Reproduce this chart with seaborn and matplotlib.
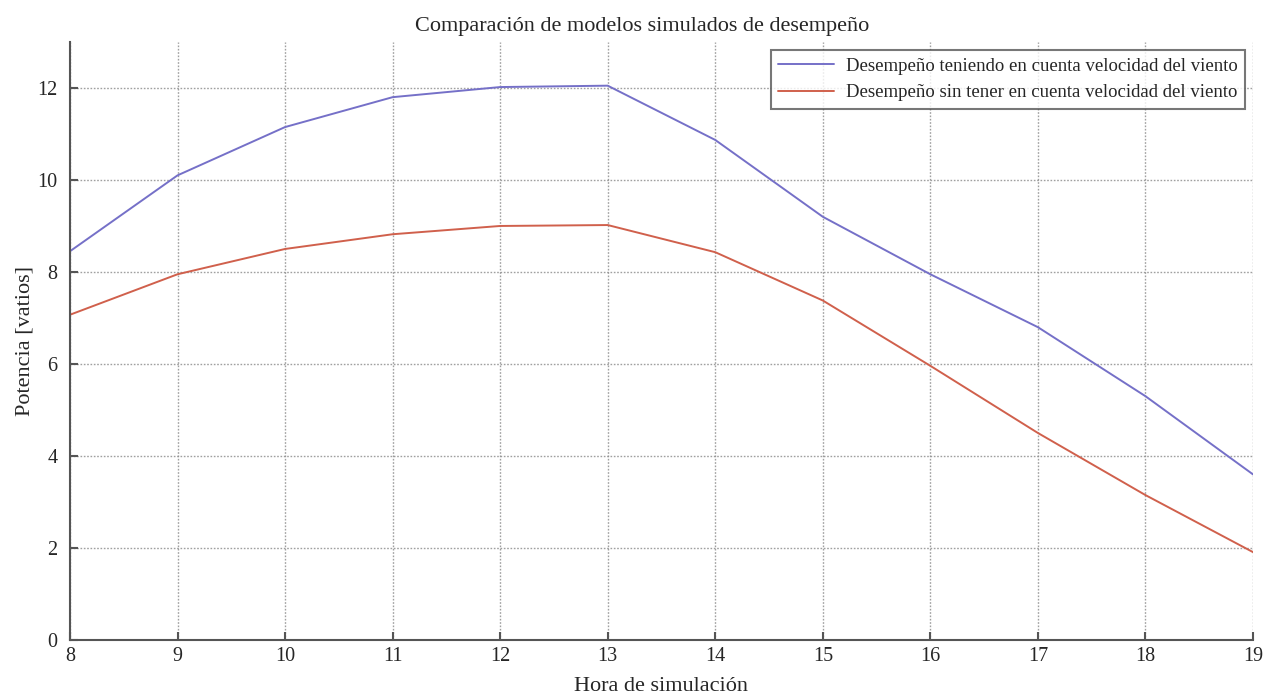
import matplotlib
matplotlib.use("Agg")
import matplotlib.pyplot as plt
import seaborn as sns
import pandas as pd

horas = [8, 9, 10, 11, 12, 13, 14, 15, 16, 17, 18, 19]
con_viento = [8.45, 10.1, 11.15, 11.8, 12.02, 12.05, 10.87, 9.2, 7.95, 6.8, 5.3, 3.6]
sin_viento = [7.07, 7.95, 8.5, 8.82, 9.0, 9.02, 8.43, 7.38, 5.96, 4.5, 3.15, 1.91]
etiqueta_con = "Desempeño teniendo en cuenta velocidad del viento"
etiqueta_sin = "Desempeño sin tener en cuenta velocidad del viento"

df = pd.DataFrame({
    "hora": horas * 2,
    "potencia": con_viento + sin_viento,
    "serie": [etiqueta_con] * len(horas) + [etiqueta_sin] * len(horas),
})

sns.set_theme(style="white")
plt.rcParams["font.family"] = ["Liberation Serif", "DejaVu Serif"]

fig = plt.figure(figsize=(12.65, 6.96), dpi=100)
ax = fig.add_axes([0.0553, 0.0805, 0.9352, 0.8592])

sns.lineplot(data=df, x="hora", y="potencia", hue="serie",
             palette=["#7570c8", "#d0604c"], linewidth=1.4, ax=ax)

ax.set_xlim(8, 19)
ax.set_ylim(0, 13)
ax.set_xticks(horas)
ax.set_yticks([0, 2, 4, 6, 8, 10, 12])
ax.grid(True, linestyle=(0, (1.2, 1.2)), color="#888888", linewidth=1.0, alpha=0.8)
for s in ["top", "right"]:
    ax.spines[s].set_visible(False)
for s in ["left", "bottom"]:
    ax.spines[s].set_color("#555555")
    ax.spines[s].set_linewidth(1.5)
ax.tick_params(direction="in", length=6, width=1.5, color="#555555",
               labelsize=14.5, left=True, bottom=True)
ax.tick_params(axis="y", pad=9)
ax.tick_params(axis="x", pad=5)

ax.set_title("Comparación de modelos simulados de desempeño", fontsize=16,
             pad=8, x=0.4835)
ax.set_xlabel("Hora de simulación", fontsize=16, labelpad=8)
ax.set_ylabel("Potencia [vatios]", fontsize=16, labelpad=2)

leg = ax.legend(loc="upper right", fontsize=13.5, frameon=True, fancybox=False,
                handlelength=3.0, handletextpad=0.6, labelspacing=0.5,
                borderaxespad=0.4, bbox_to_anchor=(0.9995, 0.999))
leg.get_frame().set_edgecolor("#555555")
leg.get_frame().set_linewidth(1.5)
leg.set_title(None)

fig.savefig("out.png", dpi=100)
